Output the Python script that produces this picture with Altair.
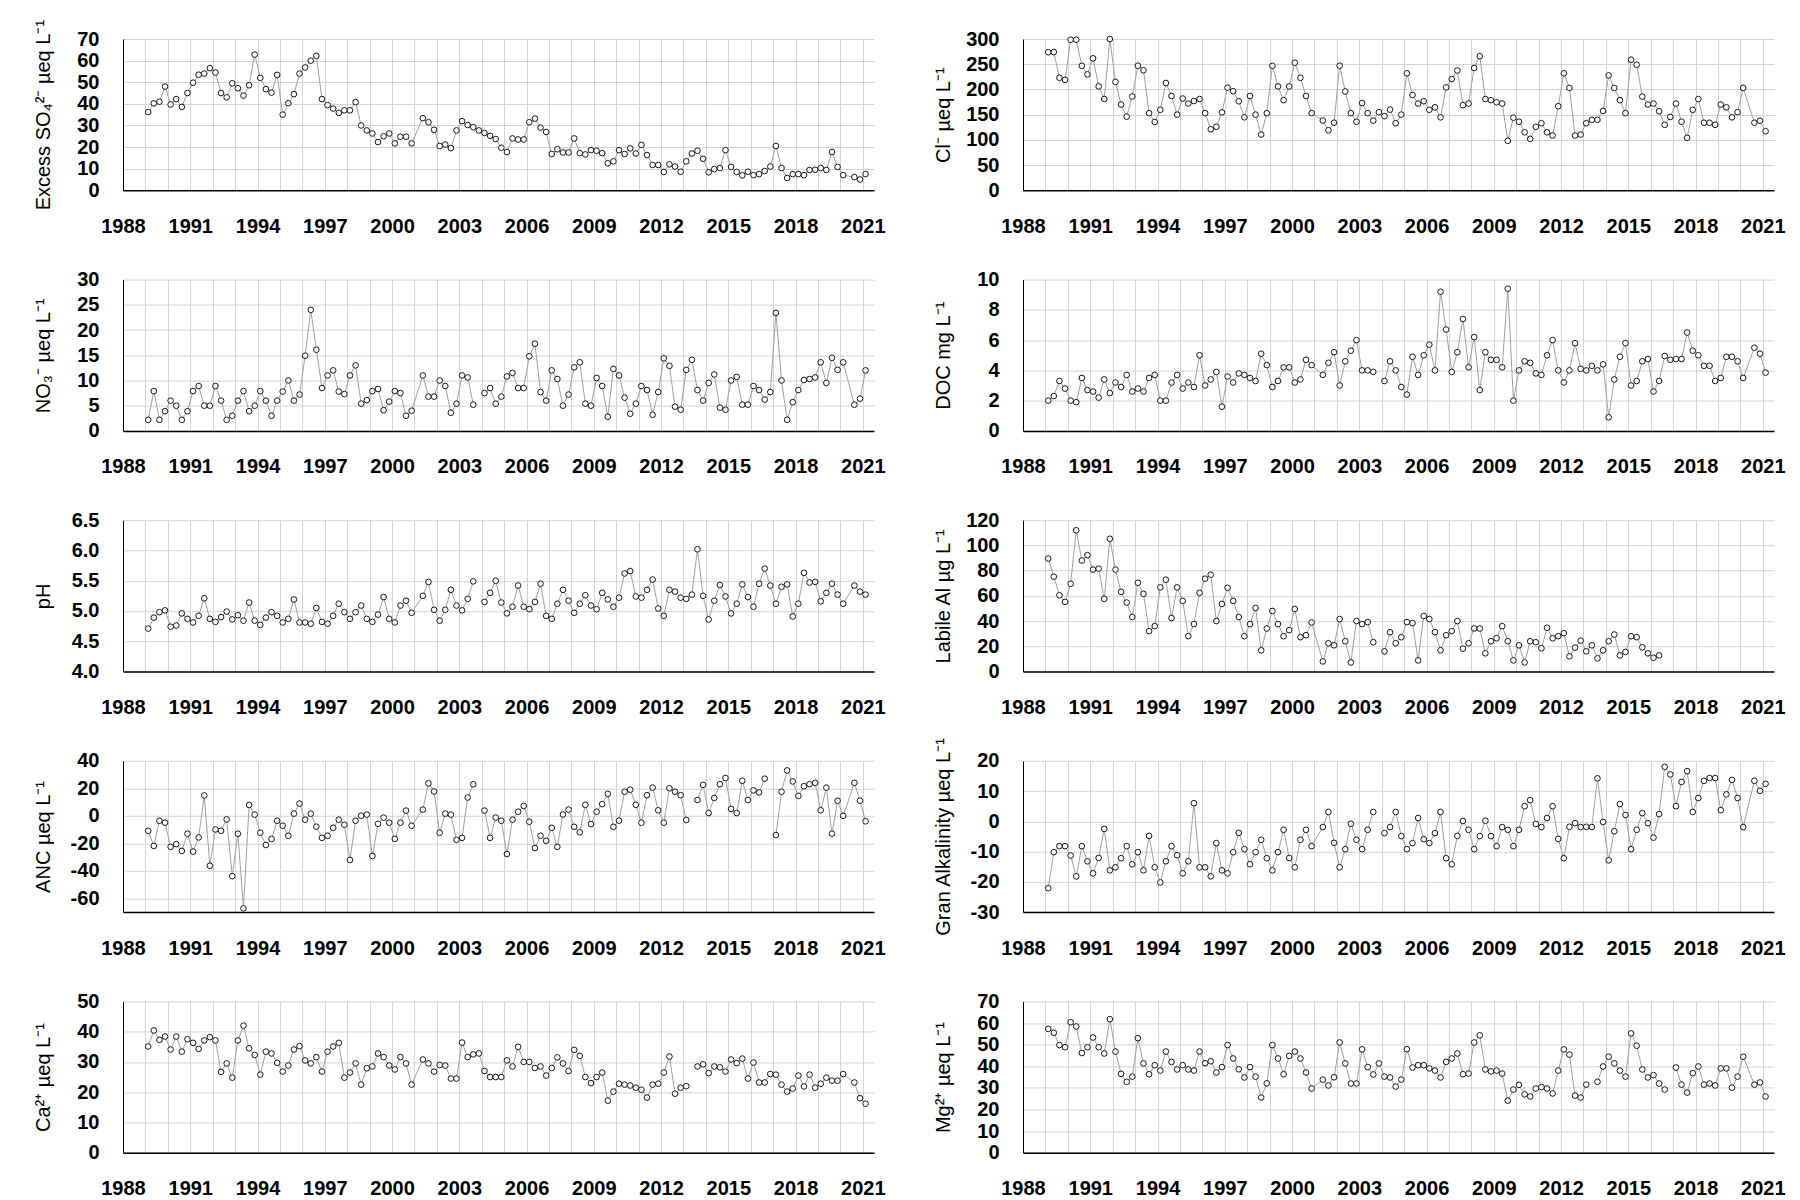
import altair as alt
import pandas as pd

# ---- sampling dates (quarterly samples; two sampling dates absent in the record) ----
SKIPPED = (48, 125)
dates = [1989.125 + 0.25 * i for i in range(129) if i not in SKIPPED]

# ---- series values (None = missing value, line broken) ----
so4 = [36.2, 40.2, 41, 48, 39.7, 42.2, 38.6, 45, 49.8, 53.5, 54, 56.5, 54.5, 45, 43, 49.5, 47.2, 43.8, 48.6, 62.8,
       52, 46.8, 45.2, 53.4, 35, 40.3, 44.5, 54, 56.8, 60, 62.2, 42.2, 39.4, 37.8, 35.8, 37, 37, 40.8, 30, 27.7,
       26.3, 22.3, 25, 26.3, 21.7, 24.8, 24.8, 21.7,
       33.4, 31.5, 28, 20.5, 21.2, 19.5, 27.7, 32, 30.2, 29.2, 27.7, 26.5, 25.2, 23.7, 19.7, 17.7, 24, 23.5, 23.5, 31.5,
       33.2, 29, 27, 16.8, 19, 17.5, 17.5, 24, 17.2, 16.6, 18.6, 18.3, 17.2, 12.5, 13.4, 18.6, 16.8, 19.4, 17, 21,
       16.3, 11.7, 11.7, 8.5, 12, 11, 8.6, 13.4, 17, 18.3, 14.6, 8.3, 9.8, 10.3, 18.6, 10.8, 8.5, 6.9, 8.6, 7,
       7.5, 8.9, 11, 20.5, 10.3, 5.7, 7.5, 7.5, 7, 9.4, 9.5, 10.3, 9.4, 17.7, 10.8, 7,
       6.1, 5, 7.5]

cl = [273.8, 274, 223, 219, 298.6, 298.6, 246.8, 229.8, 261.7, 206, 181, 300, 215, 170, 146, 186, 247, 238, 153, 135.5,
      159.6, 212.8, 187, 150, 182, 172, 177, 181, 153, 121, 126, 154.6, 203.5, 196.5, 176.6, 144.7, 187, 150, 110.6, 153,
      246.8, 206, 178.7, 206, 253, 223, 187, 153,
      138.3, 119, 134, 247, 196, 153, 136, 173, 153, 138, 155, 147, 160, 133, 150, 232, 189, 172, 176.6, 159.6,
      164.5, 144.7, 204, 220.6, 237.6, 168.8, 172, 242.5, 266, 181, 178.7, 174.5, 172, 98, 144, 136, 115, 102, 126, 133,
      115, 108.5, 166.7, 232, 203, 108.5, 110.6, 133, 139.7, 139.7, 157.4, 227.7, 203, 178.7, 153, 258.9, 249, 185.8, 170, 172,
      156.7, 129.8, 145.4, 172, 136, 104, 159.6, 181, 134, 134, 129.8, 170, 164.5, 144.7, 155, 203,
      134, 138, 117]

no3 = [2.2, 7.9, 2.2, 3.9, 6, 5, 2.2, 3.9, 7.9, 8.9, 5, 5, 8.9, 6, 2.2, 3, 6, 7.9, 3.9, 5,
       7.9, 6, 3, 6, 7.8, 10, 6, 7.2, 14.9, 24, 16.1, 8.5, 11, 12, 7.8, 7.3, 11, 13, 5.4, 6.1,
       7.9, 8.3, 4.1, 5.8, 7.9, 7.5, 3, 4,
       11, 6.8, 6.8, 10, 8.9, 3.6, 5.4, 11, 10.6, 5.2, None, 7.5, 8.5, 5.4, 6.8, 10.8, 11.5, 8.5, 8.5, 14.8,
       17.3, 7.7, 6, 12, 10.3, 5, 7.2, 12.6, 13.6, 5.4, 5, 10.5, 8.9, 2.8, 12.3, 11, 6.6, 3.4, 5.4, 8.9,
       8.1, 3.2, 7.7, 14.4, 12.9, 4.8, 4.2, 12.1, 14.1, 8.1, 6, 9.5, 11.2, 4.6, 4.2, 10, 10.7, 5.2, 5.2, 8.9,
       8.1, 6.2, 7.7, 23.4, 10, 2.2, 5.7, 8.1, 10.1, 10.3, 10.6, 13.6, 9.5, 14.5, 12.1, 13.6,
       5.2, 6.4, 12]

doc = [2, 2.3, 3.3, 2.8, 2, 1.9, 3.5, 2.7, 2.6, 2.2, 3.4, 2.5, 3.2, 2.9, 3.7, 2.6, 2.8, 2.6, 3.5, 3.7,
       2, 2, 3.2, 3.7, 2.8, 3.2, 2.9, 5, 3, 3.4, 3.9, 1.6, 3.6, 3.2, 3.8, 3.7, 3.5, 3.3, 5.1, 4.35,
       2.9, 3.3, 4.2, 4.2, 3.2, 3.4, 4.7, 4.35,
       3.7, 4.5, 5.2, 3, 4.6, 5.3, 6, 4, 4, 3.9, None, 3.3, 4.6, 4, 2.9, 2.4, 4.9, 3.7, 5, 5.7,
       4, 9.2, 6.7, 3.9, 5.2, 7.4, 4.2, 6.2, 2.7, 5.2, 4.7, 4.7, 4.2, 9.4, 2, 4, 4.6, 4.5, 3.8, 3.7,
       5, 6, 4, 3.2, 4, 5.8, 4.1, 4, 4.3, 4, 4.4, 0.9, 3.4, 4.9, 5.8, 3, 3.3, 4.6, 4.75, 2.6,
       3.3, 4.95, 4.7, 4.75, 4.75, 6.5, 5.3, 5, 4.3, 4.3, 3.3, 3.5, 4.9, 4.9, 4.6, 3.5,
       5.5, 5.1, 3.85]

ph = [4.71, 4.89, 4.98, 5.01, 4.74, 4.76, 4.96, 4.87, 4.81, 4.92, 5.21, 4.87, 4.82, 4.9, 4.99, 4.86, 4.93, 4.84, 5.14, 4.84,
      4.77, 4.89, 4.98, 4.92, 4.81, 4.87, 5.19, 4.81, 4.81, 4.79, 5.05, 4.82, 4.79, 4.92, 5.12, 4.98, 4.87, 4.98, 5.09, 4.87,
      4.82, 4.94, 5.23, 4.87, 4.81, 5.09, 5.17, 4.97,
      5.25, 5.48, 5.02, 4.84, 5.02, 5.35, 5.09, 5.01, 5.2, 5.49, None, 5.15, 5.3, 5.5, 5.14, 4.96, 5.07, 5.42, 5.07, 5.03,
      5.15, 5.45, 4.92, 4.87, 5.12, 5.35, 5.17, 4.97, 5.12, 5.26, 5.09, 5.03, 5.3, 5.19, 5.07, 5.22, 5.62, 5.66, 5.24, 5.22,
      5.35, 5.52, 5.04, 4.92, 5.35, 5.32, 5.22, 5.2, 5.27, 6.02, 5.25, 4.86, 5.17, 5.43, 5.24, 4.96, 5.12, 5.44, 5.23, 5.07,
      5.45, 5.7, 5.42, 5.12, 5.4, 5.44, 4.91, 5.12, 5.63, 5.47, 5.48, 5.16, 5.3, 5.45, 5.27, 5.12,
      5.42, 5.32, 5.27]

al = [89.6, 75.2, 60.5, 55.2, 69.6, 112, 88, 92.3, 80.8, 81.6, 57.6, 105.3, 80.8, 63.2, 54.7, 43.2, 70.4, 61.6, 32, 36,
      66.7, 72.8, 42.4, 66.7, 56, 28, 37.6, 62.4, 73.6, 76.8, 40, 53.6, 66.4, 56, 43.2, 28, 37.6, 50.4, 16.8, 34.1,
      48, 37.6, 28, 32.8, 49.6, 27.2, 28.8, 38.9,
      8, 22.4, 20.8, 41.6, 24, 7.2, 40, 37.6, 39.2, 23.2, None, 16, 31.2, 22.4, 27.2, 39.2, 38.4, 8.8, 44, 41.6,
      31.2, 16.8, 28.8, 32, 40, 18.1, 22.4, 34.1, 34.1, 14.4, 24, 26.4, 36, 24, 8.8, 20.8, 7.2, 24, 23.2, 18.4,
      34.7, 26.4, 28, 30.4, 12, 18.9, 24.5, 16, 20.8, 10.4, 16.8, 24, 29.3, 12.8, 15.5, 28, 27.2, 19.2, 14.4, 10.9,
      12.8, None, None, None, None, None, None, None, None, None, None, None, None, None, None, None,
      None, None, None]

anc = [-10.9, -21.9, -3.6, -5, -22.6, -20.6, -25.5, -13, -26, -15.7, 14.8, -36.3, -9.9, -10.9, -2.6, -43.9, -13, -67.3, 7.9, 0.9,
       -12.3, -21.2, -16.8, -3.6, -7.2, -14.5, 1.6, 8.9, -2.8, 1.6, -7.9, -16, -14.5, -8.7, -2.8, -6.5, -32.1, -3.6, 0.1, 0.9,
       -29.2, -5.8, -1.3, -5, -16.8, -5, 3.8, -7.2,
       4.5, 23.6, 17.7, -12.3, 1.6, 0.9, -17.5, -16, 13.3, 22.9, None, 3.8, -16, -1.3, -3.6, -27.8, -2.8, 3, 7.2, -4.3,
       -23.4, -14.5, -18.2, -8.7, -22.6, 1, 4.5, -8, -12, 8, -6, 3, 8.5, 16, -8, -3.5, 17.5, 19, 8, -5,
       15, 20.5, 4, -5, 20, 17.5, 15, -3, None, 11.5, 22.5, 2, 13, 23, 27.5, 5, 2, 25.5, 11.5, 18.5,
       17, 27, None, -14, 17.5, 33, 25, 14.5, 21.5, 23, 24, 4, 20.5, -13, 11, 0,
       24, 11, -4]

gran = [-22.1, -10.2, -8.2, -8.2, -11.3, -18.2, -8.2, -13.2, -17.2, -12.1, -2.5, -16.2, -15.2, -12.2, -8.2, -14.2, -10.2, -16.2, -4.8, -15.2,
        -20.2, -13.2, -8.2, -11.2, -17.2, -13.2, 6, -15.2, -15.2, -18.2, -7.2, -16.2, -17.2, -10.2, -3.8, -9.2, -14.2, -10.2, -6.1, -12.2,
        -16.2, -10.2, -2.8, -12.1, -15.2, -6.1, -2.8, -8.2,
        -1.9, 3.1, -7.1, -15.2, -9.2, -0.8, -6.1, -9.2, -2.8, 3.1, None, -3.9, -1.9, 3.1, -4.9, -9.2, -7.2, 1.1, -5.9, -7.2,
        -3.9, 3.1, -12.2, -14.2, -4.8, 0.1, -2.8, -9.2, -4.9, 0.2, -4.9, -8.2, -1.9, -2.8, -8.2, -2.8, 5, 7, -0.9, -1.9,
        1.1, 5, -5.8, -12.2, -1.8, -0.6, -1.9, -1.8, -1.9, 14.2, -0.2, -12.9, -3.3, 5.7, 2.1, -9.2, -2.8, 2.7, -0.6, -5.4,
        2.4, 18, 15.5, 5, 13, 16.6, 3.1, 7.7, 13.4, 14.3, 14.3, 3.7, 8.9, 13.7, 7.7, -1.9,
        13.4, 10.1, 12.4]

ca = [35.1, 40.4, 37.3, 38.4, 34.1, 38.4, 33.4, 37.5, 36.3, 34.3, 37.1, 38.2, 37.1, 26.7, 29.5, 24.8, 37.1, 42, 34.5, 32.3,
      25.8, 33.4, 32.8, 29.7, 26.8, 28.8, 34.1, 35.2, 30.5, 29.5, 31.6, 26.8, 33.4, 35.1, 36.3, 24.8, 26.5, 29.5, 22.5, 27.9,
      28.5, 32.8, 31.6, 28.8, 27.5, 31.6, 29.5, 22.5,
      30.8, 29.5, 26.8, 29, 28.8, 24.5, 24.5, 36.4, 31.6, 32.5, 32.8, 27, 25, 25, 25, 30.5, 28.5, 35, 30, 30,
      28, 28.5, 25.5, 28, 31.5, 29.5, 27, 34, 32, 25, 23, 25, 26.5, 17.2, 20.2, 22.8, 22.5, 22.2, 21.5, 20.8,
      18.2, 22.5, 22.8, 26.5, 31.8, 19.5, 21.5, 22, None, 28.5, 29.2, 26.3, 28.5, 28.2, 26.8, 30.8, 29.6, 31.1, 24.5, 29.8,
      23.2, 23.2, 26, 25.8, 22.5, 20.2, 21.2, 25.5, 21.9, 25.8, 21.5, 22.8, 24.8, 23.8, 23.8, 26,
      23.2, 18, 16.2]

mg = [57.3, 55.5, 49.8, 48.8, 60.4, 58.4, 46.1, 48.8, 53.3, 48.8, 45.9, 61.8, 46.8, 36.5, 32.8, 35.2, 53, 41.3, 36.3, 40.5,
      38, 46.8, 42, 38.5, 40.5, 38.5, 38, 46.8, 41.4, 42.3, 37.1, 39.6, 49.8, 43.6, 38.6, 34.8, 39.6, 35.2, 25.5, 32.1,
      49.8, 43.6, 36.3, 44.8, 46.8, 43.6, 37.1, 29.7,
      33.8, 31.1, 34.9, 51, 41.3, 32, 32, 47.8, 39.6, 36.2, 41.3, 35.2, 34.8, 30.6, 33.8, 47.9, 39.4, 40.5, 40.5, 39,
      38, 34.8, 42, 43.6, 45.9, 36.3, 36.6, 51, 54.3, 38.5, 37.6, 38, 36.6, 24.1, 29.2, 31.4, 27, 26, 29.7, 30.4,
      29.7, 27.4, 38, 47.8, 45.4, 26.4, 25.5, 31.5, None, 32.8, 39.9, 44.4, 41.3, 38, 35.2, 55.2, 49.5, 38.5, 34.8, 35.9,
      32, 29.2, None, 39.4, 31.5, 27.8, 36.8, 39.9, 31.5, 32, 31.1, 39, 39, 30.1, 35.2, 44.4,
      31.5, 32.5, 26]

x_years = list(range(1988, 2022))

W = 751
H = 151.3
FONT = "Liberation Sans"


def make_df(vals):
    if len(vals) != len(dates):
        raise ValueError(f"length {len(vals)} != {len(dates)}")
    seg = 0
    rows = []
    for t, v in zip(dates, vals):
        if v is None:
            seg += 1
        rows.append({"t": t, "v": v, "seg": seg})
    return pd.DataFrame(rows)


def panel(vals, title, domain, ticks, fmt="d", neg=False):
    df = make_df(vals)
    x = alt.X(
        "t:Q",
        scale=alt.Scale(domain=[1988, 2021.5], nice=False, zero=False),
        axis=alt.Axis(
            values=x_years,
            labelExpr="(datum.value - 1988) % 3 == 0 ? '' + datum.value : ''",
            labelFlush=False,
            labelOverlap=False,
            ticks=False,
            domainColor="black",
            domainWidth=1.5,
            grid=True,
            labelPadding=26,
            title=None,
        ),
    )
    yaxis_kw = dict(
        values=ticks,
        ticks=False,
        domainColor="black",
        domainWidth=1,
        grid=True,
        labelPadding=24,
        title=title,
        titleX=-80,
        titleY=H / 2,
        titleAngle=270,
        titleAlign="center",
        titleBaseline="middle",
    )
    if neg:
        yaxis_kw["labelExpr"] = "'' + datum.value"
    else:
        yaxis_kw["format"] = fmt
    y = alt.Y(
        "v:Q",
        scale=alt.Scale(domain=domain, nice=False, zero=False),
        axis=alt.Axis(**yaxis_kw),
    )
    base = alt.Chart(df)
    line = base.mark_line(color="#a0a0a0", strokeWidth=1).encode(x=x, y=y, detail="seg:N")
    pts = base.transform_filter("isValid(datum.v)").mark_point(
        shape="circle", size=32, fill="white", fillOpacity=1, stroke="black", strokeWidth=0.9, opacity=1
    ).encode(x=x, y=y)
    return alt.layer(line, pts).properties(width=W, height=H)


p_so4 = panel(so4, "Excess SO\u2084\u00b2\u207b \u00b5eq L\u207b\u00b9", [0, 70], list(range(0, 71, 10)))
p_cl = panel(cl, "Cl\u207b \u00b5eq L\u207b\u00b9", [0, 300], list(range(0, 301, 50)))
p_no3 = panel(no3, "NO\u2083\u207b \u00b5eq L\u207b\u00b9", [0, 30], list(range(0, 31, 5)))
p_doc = panel(doc, "DOC mg L\u207b\u00b9", [0, 10], list(range(0, 11, 2)))
p_ph = panel(ph, "pH", [4.0, 6.5], [4.0, 4.5, 5.0, 5.5, 6.0, 6.5], fmt=".1f")
p_al = panel(al, "Labile Al \u00b5g L\u207b\u00b9", [0, 120], list(range(0, 121, 20)))
p_anc = panel(anc, "ANC \u00b5eq L\u207b\u00b9", [-70, 40], list(range(-60, 41, 20)), neg=True)
p_gran = panel(gran, "Gran Alkalinity \u00b5eq L\u207b\u00b9", [-30, 20], list(range(-30, 21, 10)), neg=True)
p_ca = panel(ca, "Ca\u00b2\u207a \u00b5eq L\u207b\u00b9", [0, 50], list(range(0, 51, 10)))
p_mg = panel(mg, "Mg\u00b2\u207a \u00b5eq L\u207b\u00b9", [0, 70], list(range(0, 71, 10)))

panels = [p_so4, p_cl, p_no3, p_doc, p_ph, p_al, p_anc, p_gran, p_ca, p_mg]

chart = (
    alt.concat(*panels, columns=2, spacing={"row": 88.6, "column": 149}, bounds="flush")
    .properties(padding={"left": 24, "top": 11, "right": 5, "bottom": 5}, background="white")
    .configure_view(stroke=None)
    .configure_axis(
        labelFont=FONT,
        labelFontSize=20,
        labelFontWeight="bold",
        labelColor="black",
        titleFont=FONT,
        titleFontSize=20,
        titleFontWeight="normal",
        titleColor="black",
        gridColor="#d4d4d4",
        gridWidth=1,
    )
)

chart.save("out.html", embed_options={"renderer": "svg", "actions": False})
